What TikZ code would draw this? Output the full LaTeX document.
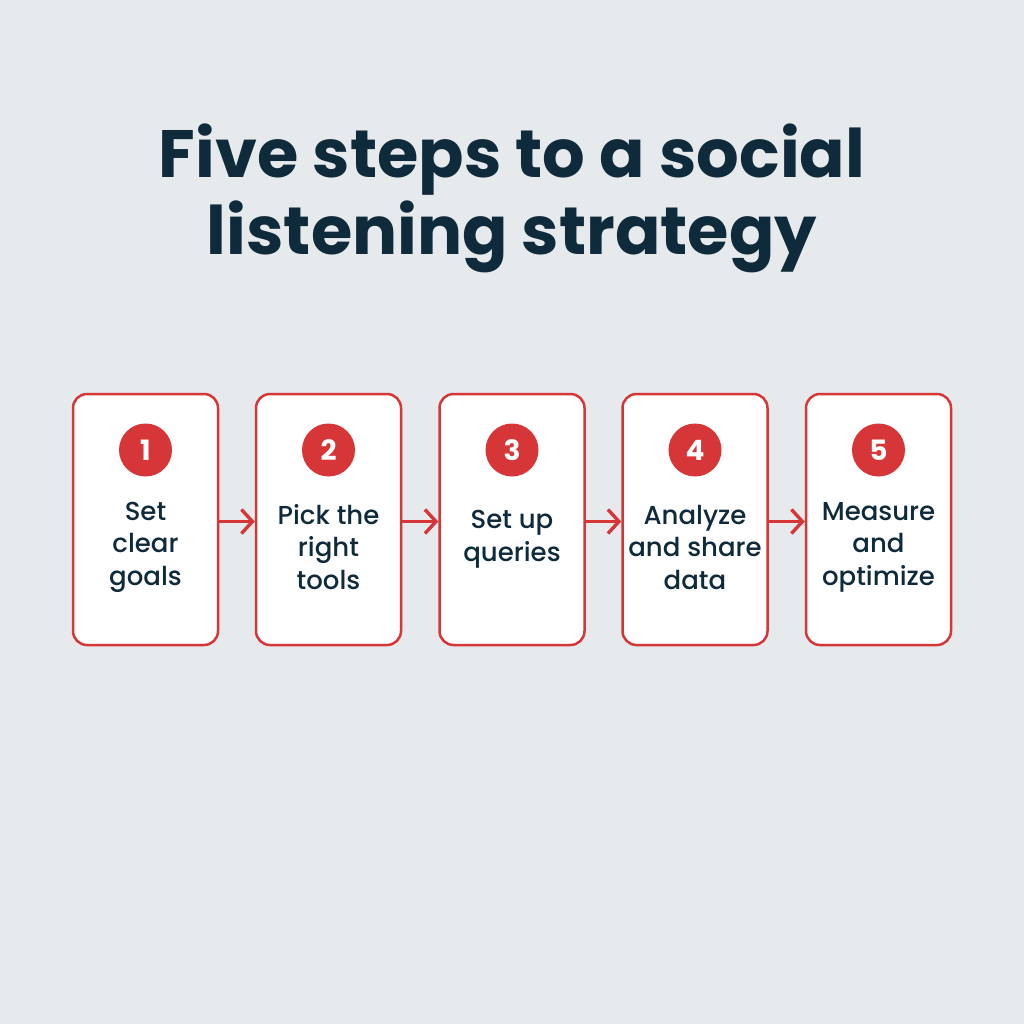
\documentclass[tikz,border=0pt]{standalone}
\usepackage{fontspec}
\setmainfont{Poppins}
\newfontfamily\medfont{Poppins Medium}
\usetikzlibrary{arrows.meta}
\definecolor{bg}{HTML}{E6EAEC}
\definecolor{ink}{HTML}{0F2A3A}
\definecolor{accent}{HTML}{D63638}
\tikzset{
  stepbox/.style={draw=accent, line width=2.5pt, fill=white, rounded corners=14pt, minimum width=145pt, minimum height=251pt, inner sep=0pt},
  badge/.style={circle, fill=accent, minimum size=53pt, inner sep=0pt, text=white, font=\fontsize{28}{28}\selectfont\bfseries},
  label/.style={text=ink, align=center, font=\medfont\fontsize{26}{32.5}\selectfont, inner sep=0pt},
  link/.style={draw=accent, line width=3.2pt, -{Straight Barb[length=11pt, width=24pt, line width=3.4pt]}},
  title/.style={text=ink, align=center, font=\fontsize{67}{77}\selectfont\bfseries, inner sep=0pt}
}
\begin{document}
\begin{tikzpicture}[x=1pt,y=-1pt]
\fill[bg] (0,0) rectangle (1024,1024);
\useasboundingbox (0,0) rectangle (1024,1024);
\node[title] (t) at (512,198) {Five steps to a social\\listening strategy};
\foreach \i/\x in {1/145.5,2/328.5,3/512,4/695,5/878.5}{
  \node[stepbox] (b\i) at (\x,519.5) {};
  \node[badge] (c\i) at (\x,450) {\i};
}
\node[label] (l1) at (145.5,547) {Set\\clear\\goals};
\node[label] (l2) at (328.5,547) {Pick the\\right\\tools};
\node[label] (l3) at (512,539) {Set up\\queries};
\node[label] (l4) at (695,547) {Analyze\\and share\\data};
\node[label] (l5) at (878.5,547) {Measure\\and\\optimize};
\foreach \a/\b in {1/2,2/3,3/4,4/5}{
  \draw[link] ([yshift=-2pt]b\a.east) -- ([yshift=-2pt]b\b.west);
}
\end{tikzpicture}
\end{document}
